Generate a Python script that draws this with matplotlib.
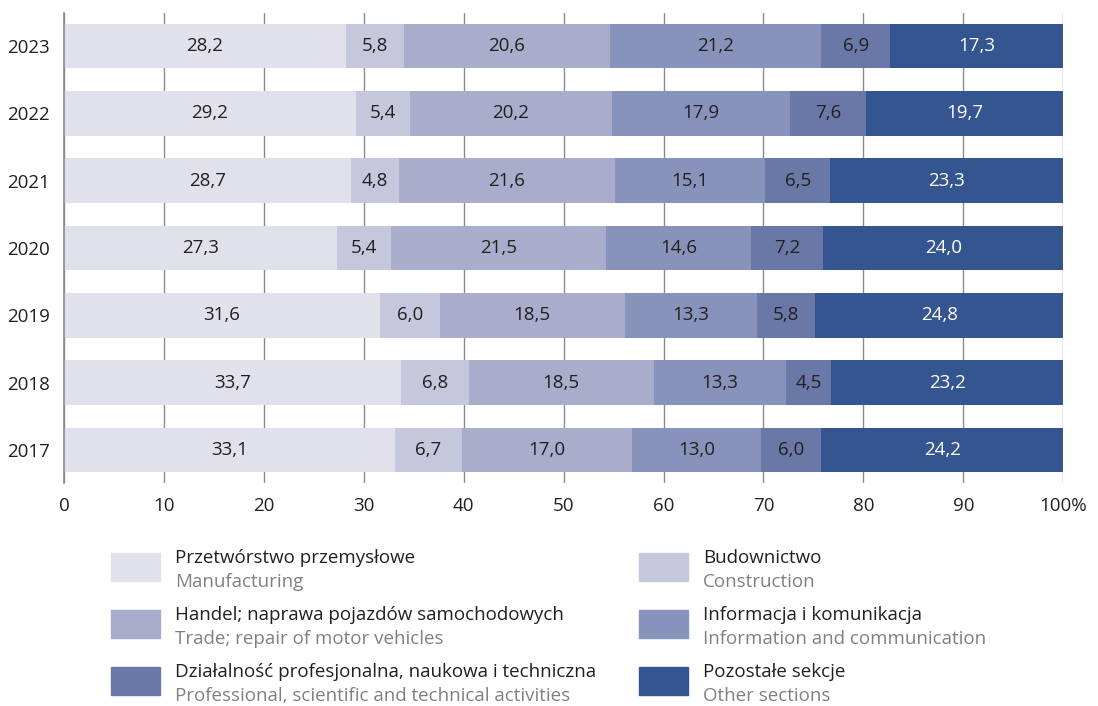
import numpy as np
import matplotlib.pyplot as plt
from matplotlib.patches import Rectangle

years = ["2023", "2022", "2021", "2020", "2019", "2018", "2017"]
manufacturing = [28.2, 29.2, 28.7, 27.3, 31.6, 33.7, 33.1]
construction = [5.8, 5.4, 4.8, 5.4, 6.0, 6.8, 6.7]
trade = [20.6, 20.2, 21.6, 21.5, 18.5, 18.5, 17.0]
information = [21.2, 17.9, 15.1, 14.6, 13.3, 13.3, 13.0]
professional = [6.9, 7.6, 6.5, 7.2, 5.8, 4.5, 6.0]
other = [17.3, 19.7, 23.3, 24.0, 24.8, 23.2, 24.2]

series = [manufacturing, construction, trade, information, professional, other]
colors = ["#e1e1ec", "#c5c7dc", "#a9adcb", "#8893bc", "#6a78a8", "#34558f"]
text_colors = ["#231f20"] * 5 + ["white"]
names_pl = ["Przetwórstwo przemysłowe", "Budownictwo",
            "Handel; naprawa pojazdów samochodowych", "Informacja i komunikacja",
            "Działalność profesjonalna, naukowa i techniczna", "Pozostałe sekcje"]
names_en = ["Manufacturing", "Construction", "Trade; repair of motor vehicles",
            "Information and communication",
            "Professional, scientific and technical activities", "Other sections"]

plt.rcParams['font.family'] = ['Open Sans', 'DejaVu Sans']
FS = 13.5

fig = plt.figure(figsize=(10.98, 7.06), dpi=100)
ax = fig.add_axes([0.0583, 0.3159, 0.910, 0.6657])

y = np.arange(len(years))
left = np.zeros(len(years))
for vals, col, tcol in zip(series, colors, text_colors):
    vals = np.array(vals)
    ax.barh(y, vals, left=left, height=0.667, color=col, zorder=2)
    for yi, l, v in zip(y, left, vals):
        ax.text(l + v / 2, yi, f"{v:.1f}".replace(".", ","), ha="center", va="center",
                fontsize=FS, color=tcol, zorder=3)
    left += vals

ax.set_xlim(0, 100)
ax.set_ylim(len(years) - 0.51, -0.49)
ax.set_yticks(y)
ax.set_yticklabels(years, fontsize=FS, color="#231f20")
ax.set_xticks(np.arange(0, 101, 10))
ax.set_xticklabels([str(t) for t in range(0, 100, 10)] + ["100%"], fontsize=FS, color="#231f20")
ax.tick_params(axis="x", length=0, pad=10)
ax.tick_params(axis="y", length=0, pad=10)
ax.xaxis.grid(True, color="#8a8a8a", linewidth=1, zorder=0)
for s in ["top", "right", "bottom"]:
    ax.spines[s].set_visible(False)
ax.spines["left"].set_color("#8a8a8a")
ax.spines["left"].set_linewidth(1.2)

# legend
W, H = 1098, 706
col_x = [111, 639]
row_y = [567, 624, 681]
for i in range(6):
    px = col_x[i % 2]
    py = row_y[i // 2]
    fig.patches.append(Rectangle((px / W, 1 - (py + 14) / H), 49 / W, 28 / H,
                                 transform=fig.transFigure, color=colors[i]))
    fig.text((px + 64) / W, 1 - (py - 9) / H, names_pl[i], fontsize=FS,
             color="#231f20", va="center")
    fig.text((px + 64) / W, 1 - (py + 15) / H, names_en[i], fontsize=FS,
             color="#808080", va="center")

fig.savefig("out.png", dpi=100)
